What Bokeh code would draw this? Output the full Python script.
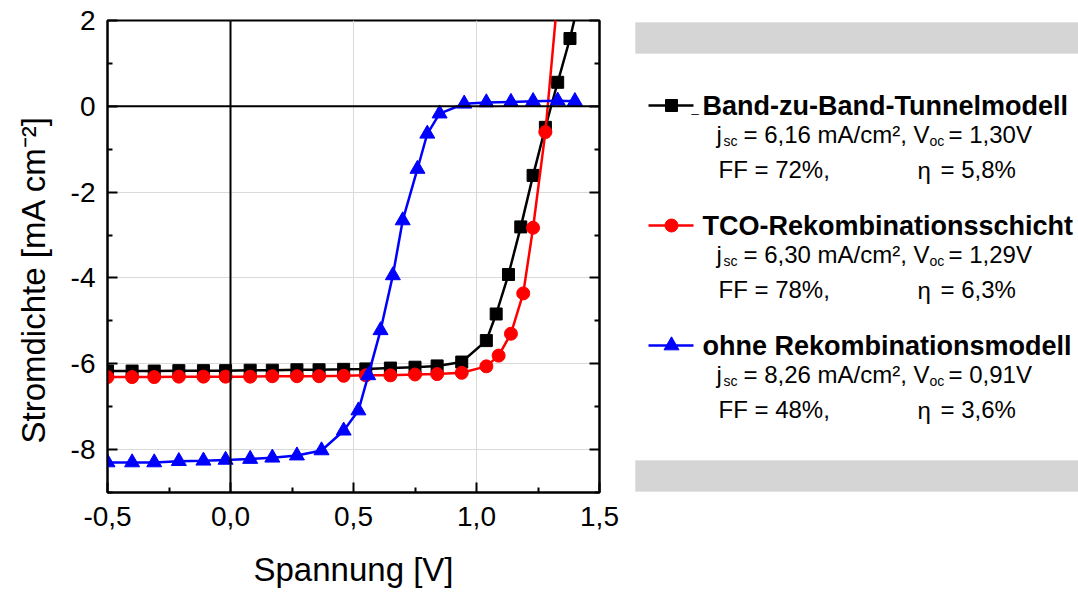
from bokeh.plotting import figure
from bokeh.models import Range1d, LinearAxis, FixedTicker, CustomJSTickFormatter, Span
from bokeh.layouts import row
from bokeh.embed import file_html
from bokeh.resources import INLINE
from bokeh.core.properties import value

FONT = "Liberation Sans"

# --- J-V curves of the tandem cell for three recombination models ---
v_band = [-0.50, -0.40, -0.31, -0.21, -0.11, -0.02, 0.08, 0.17, 0.27, 0.36, 0.46, 0.55,
          0.65, 0.75, 0.84, 0.94, 1.04, 1.08, 1.13, 1.18, 1.23, 1.28, 1.33, 1.38, 1.42]
j_band = [-6.17, -6.17, -6.17, -6.16, -6.16, -6.16, -6.15, -6.15, -6.14, -6.14, -6.13, -6.12,
          -6.10, -6.08, -6.05, -5.96, -5.46, -4.84, -3.92, -2.81, -1.61, -0.49, 0.56, 1.58, 2.55]

v_tco = [-0.50, -0.40, -0.31, -0.21, -0.11, -0.02, 0.08, 0.17, 0.27, 0.36, 0.46, 0.55,
         0.65, 0.75, 0.84, 0.94, 1.04, 1.09, 1.14, 1.19, 1.23, 1.28, 1.33]
j_tco = [-6.31, -6.31, -6.31, -6.30, -6.30, -6.30, -6.30, -6.29, -6.29, -6.29, -6.28, -6.27,
         -6.27, -6.25, -6.24, -6.21, -6.06, -5.81, -5.30, -4.36, -2.83, -0.60, 2.57]

v_none = [-0.50, -0.40, -0.31, -0.21, -0.11, -0.02, 0.08, 0.17, 0.27, 0.37, 0.46, 0.52,
          0.56, 0.61, 0.66, 0.70, 0.76, 0.80, 0.85, 0.95, 1.04, 1.14, 1.23, 1.33, 1.40]
j_none = [-8.30, -8.30, -8.30, -8.27, -8.26, -8.24, -8.22, -8.19, -8.14, -8.02, -7.56, -7.09,
          -6.27, -5.22, -3.94, -2.66, -1.46, -0.64, -0.17, 0.06, 0.09, 0.10, 0.12, 0.13, 0.12]

# axis ticks
x_major = [-0.5, 0.0, 0.5, 1.0, 1.5]
x_minor = [-0.25, 0.25, 0.75, 1.25]
y_major = [-8, -6, -4, -2, 0, 2]
y_minor = [-9, -7, -5, -3, -1, 1]

# legend entries and cell parameters
names = ["Band-zu-Band-Tunnelmodell", "TCO-Rekombinationsschicht", "ohne Rekombinationsmodell"]
colors = ["black", "red", "blue"]
markers = ["square", "circle", "triangle"]
marker_sizes = [12, 13, 15]
jsc = ["6,16", "6,30", "8,26"]
voc = ["1,30", "1,29", "0,91"]
ff = ["72", "78", "48"]
eta = ["5,8", "6,3", "3,6"]

# ---------------- main plot ----------------
p = figure(width=630, height=592, x_range=Range1d(-0.5, 1.5), y_range=Range1d(-9, 2),
           output_backend="svg", toolbar_location=None,
           min_border_left=107, min_border_right=31, min_border_top=20, min_border_bottom=100)
p.background_fill_color = "white"
p.outline_line_color = "black"
p.outline_line_width = 2

for ax in (p.xaxis[0], p.yaxis[0]):
    ax.major_tick_in = 10
    ax.major_tick_out = 0
    ax.minor_tick_in = 5
    ax.minor_tick_out = 0
    ax.major_tick_line_width = 2
    ax.minor_tick_line_width = 2
    ax.axis_line_width = 2
    ax.major_label_text_font = FONT
    ax.major_label_text_font_size = "28px"
    ax.major_label_text_color = "black"
    ax.axis_label_text_font = FONT
    ax.axis_label_text_font_size = "33px"
    ax.axis_label_text_font_style = "normal"
    ax.axis_label_text_color = "black"

p.xaxis.ticker = FixedTicker(ticks=x_major, minor_ticks=x_minor)
p.yaxis.ticker = FixedTicker(ticks=y_major, minor_ticks=y_minor)
p.xaxis.formatter = CustomJSTickFormatter(code="return tick.toFixed(1).replace('.', ',')")
p.yaxis.formatter = CustomJSTickFormatter(code="return tick.toFixed(0)")
p.xaxis.major_label_standoff = 14
p.yaxis.major_label_standoff = 12
p.xaxis.axis_label = "Spannung [V]"
p.yaxis.axis_label = "Stromdichte [mA cm\u207b\u00b2]\u00a0\u00a0\u00a0\u00a0\u00a0"
p.xaxis.axis_label_standoff = 22
p.yaxis.axis_label_standoff = 16

right = LinearAxis(ticker=FixedTicker(ticks=y_major, minor_ticks=y_minor),
                   formatter=CustomJSTickFormatter(code="return ''"),
                   major_tick_in=10, major_tick_out=0, minor_tick_in=5, minor_tick_out=0,
                   major_tick_line_width=2, minor_tick_line_width=2, axis_line_width=2,
                   major_label_standoff=0)
p.add_layout(right, "right")

p.xgrid.ticker = FixedTicker(ticks=x_major)
p.ygrid.ticker = FixedTicker(ticks=y_major)
p.grid.grid_line_color = "#dadada"
p.grid.grid_line_width = 1

p.add_layout(Span(location=0, dimension="height", line_color="black", line_width=2))
p.add_layout(Span(location=0, dimension="width", line_color="black", line_width=2))

series = [(v_band, j_band), (v_tco, j_tco), (v_none, j_none)]
for (vx, jy), c, m, s in zip(series, colors, markers, marker_sizes):
    p.line(vx, jy, line_color=c, line_width=2.5)
    p.scatter(vx, jy, marker=m, size=s, fill_color=c, line_color=c)

# ---------------- legend panel (pixel coordinates, frame shares the plot's rows 20..492) ----------------
q = figure(width=448, height=592, x_range=Range1d(630, 1078), y_range=Range1d(492, 20),
           output_backend="svg", toolbar_location=None, min_border=0,
           min_border_top=20, min_border_bottom=100,
           x_axis_location=None, y_axis_location=None)
q.outline_line_color = None
q.grid.visible = False

q.quad(left=[635, 635], right=[1078, 1078], top=[22, 460], bottom=[53, 491],
       fill_color="#d5d5d5", line_color="#e2e2e2", line_width=1)

step = 120
for i, (name, c, m, s) in enumerate(zip(names, colors, markers, marker_sizes)):
    yl = 105 + i * step
    q.segment(x0=[648], y0=[yl], x1=[693], y1=[yl], line_color=c, line_width=2.5)
    q.scatter([671], [yl], marker=m, size=s, fill_color=c, line_color=c)
    q.text([702], [yl], text=[name], text_font=value(FONT), text_font_style="bold",
           text_font_size="27px", text_color="black", text_baseline="alphabetic")
    b1 = yl + 29
    b2 = yl + 64
    q.text([716], [b1], text=["j"], text_font=value(FONT), text_font_size="24px",
           text_baseline="alphabetic")
    q.text([723], [b1 + 6], text=["sc"], text_font=value(FONT), text_font_size="14px",
           text_baseline="alphabetic")
    q.text([743], [b1], text=[f"= {jsc[i]} mA/cm²,"], text_font=value(FONT),
           text_font_size="24px", text_baseline="alphabetic")
    q.text([913], [b1], text=["V"], text_font=value(FONT), text_font_size="24px",
           text_baseline="alphabetic")
    q.text([929], [b1 + 6], text=["oc"], text_font=value(FONT), text_font_size="14px",
           text_baseline="alphabetic")
    q.text([948], [b1], text=[f"= {voc[i]}V"], text_font=value(FONT), text_font_size="24px",
           text_baseline="alphabetic")
    q.text([718], [b2], text=[f"FF = {ff[i]}%,"], text_font=value(FONT), text_font_size="24px",
           text_baseline="alphabetic")
    q.text([917], [b2 + 1], text=["\u03b7"], text_font=value(FONT), text_font_size="24px",
           text_baseline="alphabetic")
    q.text([940], [b2], text=[f"= {eta[i]}%"], text_font=value(FONT), text_font_size="24px",
           text_baseline="alphabetic")

q.text([691], [107], text=["_"], text_font=value(FONT), text_font_size="13px",
       text_baseline="alphabetic")

layout = row(p, q)
open("out.html", "w").write(file_html(layout, INLINE))
